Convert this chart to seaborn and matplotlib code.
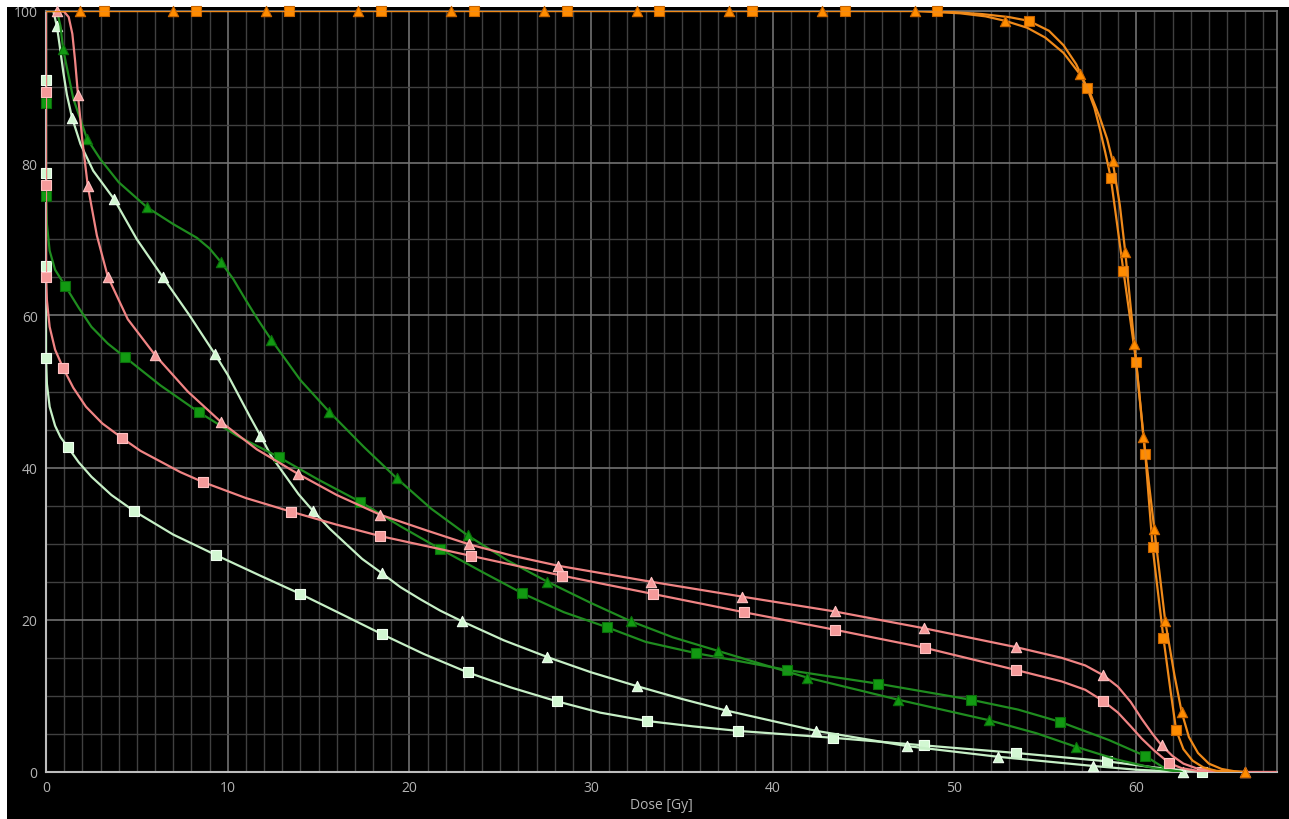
import numpy as np
import pandas as pd
import matplotlib
matplotlib.use("Agg")
import matplotlib.pyplot as plt
from matplotlib.patches import Rectangle
from matplotlib.ticker import MultipleLocator
import seaborn as sns

# ---------------- data ----------------
# Orange, triangle
or_tri_x = [0, 1.87, 6.99, 12.1, 17.17, 22.29, 27.4, 32.5, 37.6, 42.7, 47.8, 50.3, 51.7, 52.8, 54.0, 55.0, 56.0,
            56.9, 57.5, 58.0, 58.4, 58.7, 59.1, 59.4, 59.9, 60.4, 61.0, 61.6, 62.1, 62.5, 62.9, 63.4, 64.0, 64.7,
            65.4, 66.0]
or_tri_y = [100, 100, 100, 100, 100, 100, 100, 100, 100, 100, 100, 99.7, 99.3, 98.7, 97.8, 96.5, 94.5,
            91.7, 89.0, 86.0, 83.2, 80.3, 74.5, 68.3, 56.2, 44.0, 31.9, 19.8, 12.8, 7.9, 4.6, 2.5, 1.1, 0.4,
            0.1, 0]
or_tri_mx = [1.87, 6.99, 12.1, 17.17, 22.29, 27.4, 32.5, 37.6, 42.7, 47.8, 52.8, 56.9, 58.7, 59.4, 59.9, 60.4,
             61.0, 61.6, 62.5, 66.0]
or_tri_my = [100, 100, 100, 100, 100, 100, 100, 100, 100, 100, 98.7, 91.7, 80.3, 68.3, 56.2, 44.0,
             31.9, 19.8, 7.9, 0]

# Orange, square
or_sq_x = [0, 3.19, 8.26, 13.37, 18.44, 23.56, 28.67, 33.74, 38.86, 43.97, 49.04, 51.5, 53.0, 54.1, 55.2, 56.0,
           56.7, 57.3, 57.7, 58.0, 58.3, 58.6, 58.95, 59.3, 60.0, 60.5, 60.9, 61.5, 61.9, 62.2, 62.6, 63.1, 63.7,
           64.4, 65.7]
or_sq_y = [100, 100, 100, 100, 100, 100, 100, 100, 100, 100, 100, 99.6, 99.2, 98.7, 97.4, 95.5,
           93.0, 89.9, 87.3, 84.5, 81.4, 78.1, 72.0, 65.8, 53.9, 41.8, 29.6, 17.6, 10.5, 5.5, 3.0, 1.5, 0.6,
           0.15, 0]
or_sq_mx = [3.19, 8.26, 13.37, 18.44, 23.56, 28.67, 33.74, 38.86, 43.97, 49.04, 54.1, 57.3, 58.6, 59.3, 60.0,
            60.5, 60.9, 61.5, 62.2]
or_sq_my = [100, 100, 100, 100, 100, 100, 100, 100, 100, 100, 98.7, 89.9, 78.1, 65.8, 53.9,
            41.8, 29.6, 17.6, 5.5]

# Pink, triangle
pk_tri_x = [0, 0.6, 1.0, 1.25, 1.45, 1.6, 1.76, 2.0, 2.3, 2.8, 3.4, 4.5, 6.0, 7.8, 9.63, 11.6, 13.85, 16.0,
            18.4, 21.0, 23.3, 25.7, 28.2, 33.3, 38.3, 43.4, 48.3, 53.4, 55.9, 57.2, 58.2, 59.0, 59.7, 60.3, 60.9,
            61.4, 62.0, 62.6, 63.3, 64.5, 66.0, 67.7]
pk_tri_y = [100, 100, 99.9, 99.2, 97, 93.5, 89, 83, 77, 70.5, 65.1, 59.5, 54.8, 50, 46, 42.4, 39.2, 36.4,
            33.8, 31.7, 29.9, 28.4, 27.1, 25.0, 23.05, 21.1, 18.9, 16.4, 15.0, 14.0, 12.7, 11.2, 9.2, 7.0, 5.0,
            3.5, 2.1, 1.1, 0.5, 0.1, 0, 0]
pk_tri_mx = [0.6, 1.76, 2.3, 3.4, 6.0, 9.63, 13.85, 18.4, 23.3, 28.2, 33.3, 38.3, 43.4, 48.3, 53.4, 58.2, 61.4, 66.0]
pk_tri_my = [100, 89, 77, 65.1, 54.8, 46, 39.2, 33.8, 29.9, 27.1, 25.0, 23.05, 21.1, 18.9, 16.4, 12.7, 3.5, 0]

# Pink, square
pk_sq_x = [0, 0, 0, 0, 0.05, 0.2, 0.5, 0.94, 1.5, 2.2, 3.1, 4.18, 5.2, 6.3, 7.4, 8.64, 11.0, 13.5, 16.0, 18.4,
           20.9, 23.4, 25.9, 28.4, 33.4, 38.4, 43.4, 48.4, 53.4, 55.9, 57.2, 58.2, 59.0, 59.7, 60.3, 61.0, 61.8,
           62.5, 63.5, 65.0]
pk_sq_y = [100, 89.4, 77.1, 65.0, 62, 58.5, 55.5, 53.1, 50.5, 48.0, 45.8, 43.9, 42.2, 40.8, 39.4, 38.1, 36.0,
           34.2, 32.5, 31.0, 29.7, 28.4, 27.1, 25.8, 23.4, 21.0, 18.7, 16.3, 13.4, 11.9, 10.8, 9.3, 7.8, 6.0,
           4.4, 2.8, 1.2, 0.5, 0.1, 0]
pk_sq_mx = [0, 0, 0, 0.94, 4.18, 8.64, 13.5, 18.4, 23.4, 28.4, 33.4, 38.4, 43.4, 48.4, 53.4, 58.2, 61.8]
pk_sq_my = [89.4, 77.1, 65.0, 53.1, 43.9, 38.1, 34.2, 31.0, 28.4, 25.8, 23.4, 21.0, 18.7, 16.3, 13.4, 9.3, 1.2]

# Dark green, triangle
dg_tri_x = [0, 0.6, 0.8, 0.94, 1.5, 2.26, 3.0, 4.0, 5.56, 7.0, 8.3, 9.0, 9.63, 10.3, 11.0, 11.7, 12.4, 14.0,
            15.6, 17.5, 19.3, 21.2, 23.2, 25.4, 27.6, 30.0, 32.2, 34.5, 37.0, 39.5, 41.9, 46.9, 51.9, 54.5, 56.7,
            59.0, 61.0, 62.5]
dg_tri_y = [100, 100, 98, 95, 88.5, 83.2, 80.5, 77.5, 74.2, 72.0, 70.2, 68.8, 67.0, 64.8, 62.0, 59.3, 56.8,
            51.5, 47.3, 42.7, 38.6, 34.6, 31.1, 27.8, 25.0, 22.2, 19.8, 17.7, 15.9, 14.1, 12.4, 9.5, 6.8, 5.1,
            3.3, 1.6, 0.5, 0]
dg_tri_mx = [0.94, 2.26, 5.56, 9.63, 12.4, 15.6, 19.3, 23.2, 27.6, 32.2, 37.0, 41.9, 46.9, 51.9, 56.7]
dg_tri_my = [95, 83.2, 74.2, 67.0, 56.8, 47.3, 38.6, 31.1, 25.0, 19.8, 15.9, 12.4, 9.5, 6.8, 3.3]

# Dark green, square
dg_sq_x = [0, 0, 0, 0.05, 0.2, 0.5, 1.05, 1.8, 2.5, 3.4, 4.35, 6.3, 8.4, 10.5, 12.8, 15.0, 17.3, 19.5, 21.7,
           24.0, 26.2, 28.5, 30.9, 33.0, 35.8, 40.8, 45.8, 50.9, 53.5, 55.8, 58.5, 60.5, 61.7, 62.5]
dg_sq_y = [100, 87.9, 75.7, 72, 68.5, 66, 63.9, 61, 58.5, 56.3, 54.5, 50.8, 47.3, 44.2, 41.4, 38.4, 35.5,
           32.3, 29.3, 26.3, 23.5, 21.0, 19.0, 17.1, 15.6, 13.4, 11.6, 9.5, 8.2, 6.6, 4.2, 2.1, 0.3, 0]
dg_sq_mx = [0, 0, 1.05, 4.35, 8.4, 12.8, 17.3, 21.7, 26.2, 30.9, 35.8, 40.8, 45.8, 50.9, 55.8, 60.5]
dg_sq_my = [87.9, 75.7, 63.9, 54.5, 47.3, 41.4, 35.5, 29.3, 23.5, 19.0, 15.6, 13.4, 11.6, 9.5, 6.6, 2.1]

# Light green, triangle
lg_tri_x = [0, 0.4, 0.6, 0.75, 0.95, 1.15, 1.43, 1.9, 2.6, 3.74, 5.0, 6.44, 7.9, 9.3, 10.0, 11.2, 11.8, 12.4,
            13.9, 14.7, 15.6, 17.4, 18.5, 19.5, 20.6, 21.7, 22.9, 25.2, 27.6, 30.0, 32.5, 35.0, 37.4, 42.4, 47.4,
            52.4, 57.6, 60.0, 62.6]
lg_tri_y = [100, 100, 98, 95.5, 92, 89, 86, 82.5, 79, 75.3, 70, 65, 60, 54.9, 52.2, 46.8, 44.2, 41.5,
            36.5, 34.3, 32.0, 28.0, 26.1, 24.3, 22.7, 21.2, 19.8, 17.3, 15.1, 13.1, 11.3, 9.6, 8.1, 5.4, 3.4,
            2.0, 0.8, 0.3, 0]
lg_tri_mx = [0.6, 1.43, 3.74, 6.44, 9.3, 11.8, 14.7, 18.5, 22.9, 27.6, 32.5, 37.4, 42.4, 47.4, 52.4, 57.6, 62.6]
lg_tri_my = [98, 86, 75.3, 65, 54.9, 44.2, 34.3, 26.1, 19.8, 15.1, 11.3, 8.1, 5.4, 3.4, 2.0, 0.8, 0]

# Light green, square
lg_sq_x = [0, 0, 0, 0, 0, 0.05, 0.2, 0.5, 0.8, 1.2, 1.8, 2.5, 3.6, 4.84, 7.0, 9.36, 11.7, 14.0, 16.3, 18.5,
           20.8, 23.2, 25.6, 28.1, 30.5, 33.1, 35.6, 38.1, 43.3, 48.3, 53.4, 58.4, 61.0, 63.6]
lg_sq_y = [100, 90.9, 78.7, 66.5, 54.4, 51, 48, 45.5, 44, 42.7, 40.7, 38.8, 36.4, 34.3, 31.2, 28.5, 25.9,
           23.4, 20.7, 18.1, 15.5, 13.1, 11.1, 9.3, 7.8, 6.7, 6.0, 5.4, 4.5, 3.5, 2.5, 1.4, 0.6, 0]
lg_sq_mx = [0, 0, 0, 0, 1.2, 4.84, 9.36, 14.0, 18.5, 23.2, 28.1, 33.1, 38.1, 43.3, 48.3, 53.4, 58.4, 63.6]
lg_sq_my = [90.9, 78.7, 66.5, 54.4, 42.7, 34.3, 28.5, 23.4, 18.1, 13.1, 9.3, 6.7, 5.4, 4.5, 3.5, 2.5, 1.4, 0]

x_ticks = [0, 10, 20, 30, 40, 50, 60]
y_ticks = [0, 20, 40, 60, 80, 100]
x_label = "Dose [Gy]"

# ---------------- styling ----------------
sns.set_style("dark", rc={"axes.facecolor": "black", "figure.facecolor": "white"})
plt.rcParams["font.family"] = ["Open Sans", "DejaVu Sans"]

fig = plt.figure(figsize=(12.89, 8.2), dpi=100)
fig.patches.append(Rectangle((7 / 1289, 0), 1, 1 - 8 / 820, transform=fig.transFigure,
                             facecolor="black", edgecolor="none", zorder=-10))
ax = fig.add_axes([46 / 1289, 1 - 773 / 820, (1277 - 46) / 1289, (773 - 12) / 820])
ax.set_facecolor("black")

series = [
    (lg_sq_x, lg_sq_y, lg_sq_mx, lg_sq_my, "#c6efc6", "#d2f7d2", "#f0fff0", "s"),
    (lg_tri_x, lg_tri_y, lg_tri_mx, lg_tri_my, "#c6efc6", "#d2f7d2", "#f0fff0", "^"),
    (dg_sq_x, dg_sq_y, dg_sq_mx, dg_sq_my, "#1f8c1f", "#129a12", "#0b6e0b", "s"),
    (dg_tri_x, dg_tri_y, dg_tri_mx, dg_tri_my, "#1f8c1f", "#129a12", "#0b6e0b", "^"),
    (pk_sq_x, pk_sq_y, pk_sq_mx, pk_sq_my, "#f08484", "#f59a9a", "#ffc2c2", "s"),
    (pk_tri_x, pk_tri_y, pk_tri_mx, pk_tri_my, "#f08484", "#f59a9a", "#ffc2c2", "^"),
    (or_sq_x, or_sq_y, or_sq_mx, or_sq_my, "#f08a1a", "#ff8c00", "#c86400", "s"),
    (or_tri_x, or_tri_y, or_tri_mx, or_tri_my, "#f08a1a", "#ff8c00", "#c86400", "^"),
]

z = 3
for lx, ly, mx, my, lc, mc, ec, mk in series:
    sns.lineplot(x=lx, y=ly, sort=False, estimator=None, color=lc, linewidth=1.6, ax=ax, zorder=z)
    sns.scatterplot(x=mx, y=my, marker=mk, s=52 if mk == "s" else 55, color=mc, edgecolor=ec,
                    linewidth=0.8, ax=ax, zorder=z + 1, clip_on=False)
    z += 2

ax.set_xlim(0, 67.75)
ax.set_ylim(0, 100)
ax.set_xticks(x_ticks)
ax.set_yticks(y_ticks)
ax.xaxis.set_minor_locator(MultipleLocator(1))
ax.yaxis.set_minor_locator(MultipleLocator(5))
ax.grid(which="minor", color="#404040", linewidth=1.0, zorder=0)
ax.grid(which="major", color="#727272", linewidth=1.2, zorder=0)
ax.set_axisbelow(True)
ax.tick_params(which="minor", length=0)
ax.tick_params(which="major", length=4, width=1, color="#a0a0a0", labelcolor="#b4b4b4",
               labelsize=10, pad=2)
ax.set_xlabel(x_label, color="#b4b4b4", fontsize=10, labelpad=1)
ax.set_ylabel("")
for side in ["left", "bottom"]:
    ax.spines[side].set_color("#bdbdbd")
    ax.spines[side].set_linewidth(1.5)
for side in ["top", "right"]:
    ax.spines[side].set_color("#707070")
    ax.spines[side].set_linewidth(1.2)

fig.savefig("out.png", dpi=100, facecolor="white")
